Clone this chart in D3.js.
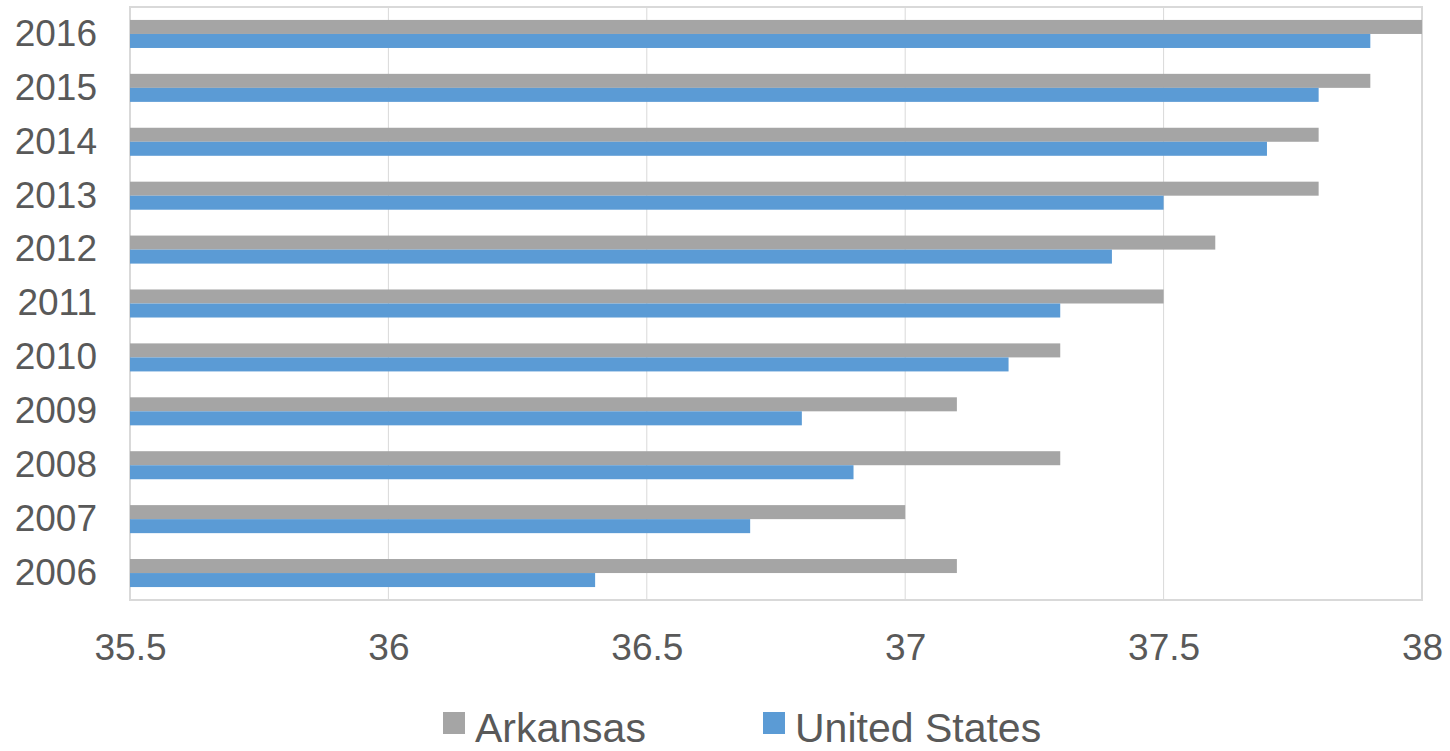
<!DOCTYPE html>
<html lang="en">
<head>
<meta charset="utf-8">
<script src="https://cdn.jsdelivr.net/npm/d3@7"></script>
<style>
  body { margin: 0; background: #fff; }
  svg text { font-family: "Liberation Sans", Arial, sans-serif; fill: #595959; }
</style>
</head>
<body>
<svg id="chart" width="1450" height="751"></svg>
<script>
// years, top to bottom
var years = ["2016", "2015", "2014", "2013", "2012", "2011", "2010", "2009", "2008", "2007", "2006"];
var arkansas = [38.0, 37.9, 37.8, 37.8, 37.6, 37.5, 37.3, 37.1, 37.3, 37.0, 37.1];
var unitedStates = [37.9, 37.8, 37.7, 37.5, 37.4, 37.3, 37.2, 36.8, 36.9, 36.7, 36.4];
var xTicks = [35.5, 36, 36.5, 37, 37.5, 38];
var seriesNames = ["Arkansas", "United States"];
var colors = ["#a5a5a5", "#5b9bd5"];

var margin = {top: 7, right: 28, bottom: 151, left: 130};
var width = 1450 - margin.left - margin.right;
var height = 751 - margin.top - margin.bottom;

var svg = d3.select("#chart");
var g = svg.append("g")
  .attr("transform", "translate(" + margin.left + "," + margin.top + ")");

var x = d3.scaleLinear().domain([35.5, 38]).range([0, width]);
var y = d3.scaleBand().domain(years).range([0, height]).paddingInner(0.48).paddingOuter(0.24);
var ySub = d3.scaleBand().domain(seriesNames).range([0, y.bandwidth()]);

// gridlines
g.selectAll(".grid")
  .data(xTicks)
  .enter().append("line")
  .attr("x1", function(d){ return x(d) })
  .attr("x2", function(d){ return x(d) })
  .attr("y1", 0)
  .attr("y2", height)
  .attr("stroke", "#d9d9d9")
  .attr("stroke-width", 1);

g.append("rect")
  .attr("x", 0).attr("y", 0)
  .attr("width", width).attr("height", height)
  .attr("fill", "none")
  .attr("stroke", "#d9d9d9")
  .attr("stroke-width", 2);

var rows = years.map(function(yr, i){
  return {year: yr, vals: [arkansas[i], unitedStates[i]]};
});

var groups = g.selectAll(".yr")
  .data(rows)
  .enter().append("g")
  .attr("transform", function(d){ return "translate(0," + y(d.year) + ")" });

groups.selectAll("rect")
  .data(function(d){ return d.vals.map(function(v, j){ return {name: seriesNames[j], v: v, c: colors[j]} }) })
  .enter().append("rect")
  .attr("x", 0)
  .attr("y", function(d){ return ySub(d.name) })
  .attr("height", ySub.bandwidth())
  .attr("width", function(d){ return x(d.v) - x(35.5) })
  .attr("fill", function(d){ return d.c });

// y axis labels
var yAxis = d3.axisLeft(y).tickSize(0).tickPadding(33);
g.append("g").call(yAxis)
  .call(function(s){ s.select(".domain").remove() })
  .selectAll("text")
  .style("font-size", "37px")
  .attr("fill", "#595959");

// x axis labels
var xAxis = d3.axisBottom(x).tickValues(xTicks).tickSize(0).tickPadding(34)
  .tickFormat(function(d){ return String(d) });
g.append("g").attr("transform", "translate(0," + height + ")").call(xAxis)
  .call(function(s){ s.select(".domain").remove() })
  .selectAll("text")
  .style("font-size", "37px")
  .attr("fill", "#595959");

// legend
var legendX = [443, 763];
var legend = svg.selectAll(".legend")
  .data(seriesNames)
  .enter().append("g")
  .attr("transform", function(d, i){ return "translate(" + legendX[i] + ",712)" });

legend.append("rect")
  .attr("width", 22).attr("height", 22)
  .attr("fill", function(d, i){ return colors[i] });

legend.append("text")
  .attr("x", 32)
  .attr("y", 30)
  .style("font-size", "41px")
  .text(function(d){ return d });
</script>
</body>
</html>
